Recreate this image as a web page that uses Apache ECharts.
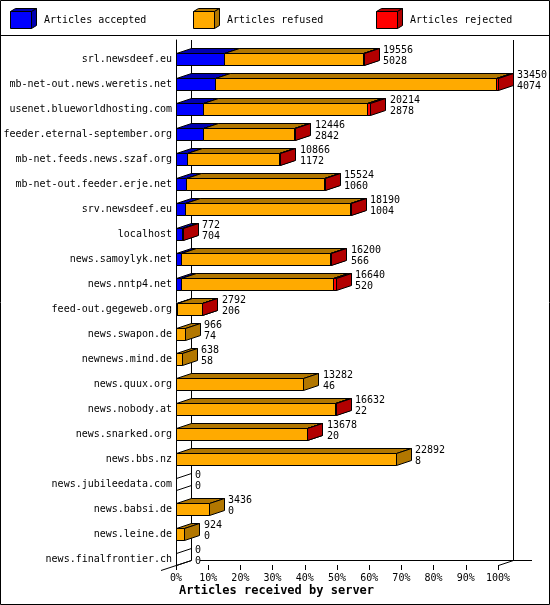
<!DOCTYPE html>
<html>
<head>
<meta charset="utf-8">
<style>html,body{margin:0;padding:0;background:#fff}#c{width:550px;height:605px}</style>
<script src="https://cdn.jsdelivr.net/npm/echarts@6/dist/echarts.min.js"></script>
</head>
<body>
<div id="c"></div>
<script>
const servers = ["srl.newsdeef.eu","mb-net-out.news.weretis.net","usenet.blueworldhosting.com","feeder.eternal-september.org","mb-net.feeds.news.szaf.org","mb-net-out.feeder.erje.net","srv.newsdeef.eu","localhost","news.samoylyk.net","news.nntp4.net","feed-out.gegeweb.org","news.swapon.de","newnews.mind.de","news.quux.org","news.nobody.at","news.snarked.org","news.bbs.nz","news.jubileedata.com","news.babsi.de","news.leine.de","news.finalfrontier.ch"];
const totals   = [19556,33450,20214,12446,10866,15524,18190,772,16200,16640,2792,966,638,13282,16632,13678,22892,0,3436,924,0];
const accepted = [5028,4074,2878,2842,1172,1060,1004,704,566,520,206,74,58,46,22,20,8,0,0,0,0];
const rejected = [100,150,300,90,90,60,70,68,130,280,40,0,0,0,30,30,0,0,0,0,0];
const legendNames = ["Articles accepted","Articles refused","Articles rejected"];
const axisTitle = "Articles received by server";
const FRONT = ["#0000ff","#ffaa00","#ff0000"];
const DARK  = ["#0000b2","#b27700","#b20000"];
const FONT = "DejaVu Sans Mono";
const DX = 15, DY = 5, BAR_H = 12;
const MAX = Math.max.apply(null, totals);
const pct = v => v / MAX * 100;
const px = v => Math.floor(v) + 0.5;

function segment(colorIdx) {
  return function (params, api) {
    const a = api.value(0), b = api.value(1), row = api.value(2), tot = api.value(3);
    const p0 = api.coord([a, row]), p1 = api.coord([b, row]);
    const bh = api.size([0, 1])[1];
    const bottom = px(p0[1] + bh / 2), top = bottom - BAR_H;
    const x0 = px(p0[0]), x1 = px(p1[0]);
    const st = {stroke:"#000", lineWidth:1};
    if (tot === 0) {
      if (colorIdx !== 0) return {type:"group", children:[]};
      return {type:"polygon", shape:{points:[[x0,top],[x0+DX,top-DY],[x0+DX,bottom-DY],[x0,bottom]]},
        style:{fill:"none", stroke:"#000", lineWidth:1}};
    }
    if (b <= a || (colorIdx !== 2 && x1 === x0)) return {type:"group", children:[]};
    return {type:"group", children:[
      {type:"polygon", shape:{points:[[x0,top],[x0+DX,top-DY],[x1+DX,top-DY],[x1,top]]}, style:Object.assign({fill:DARK[colorIdx]}, st)},
      {type:"polygon", shape:{points:[[x1,top],[x1+DX,top-DY],[x1+DX,bottom-DY],[x1,bottom]]}, style:Object.assign({fill:DARK[colorIdx]}, st)},
      {type:"rect", shape:{x:x0, y:top, width:x1-x0, height:BAR_H}, style:Object.assign({fill:FRONT[colorIdx]}, st)}
    ]};
  };
}
function labels(params, api) {
  const row = api.value(0), tot = api.value(1), acc = api.value(2);
  const p = api.coord([pct(tot), row]);
  const bh = api.size([0, 1])[1];
  const bandTop = p[1] - bh / 2;
  const x = Math.round(p[0]) + 19;
  const t = (s, y) => ({type:"text", style:{x:x, y:y, text:String(s), fill:"#000", fontSize:10, fontFamily:FONT, verticalAlign:"middle", align:"left"}});
  return {type:"group", children:[t(tot, bandTop + 10), t(acc, bandTop + 21)]};
}
const rowsA = servers.map((s,i)=>[0, pct(accepted[i]), i, totals[i]]);
const rowsR = servers.map((s,i)=>[pct(accepted[i]), pct(totals[i]-rejected[i]), i, totals[i]]);
const rowsJ = servers.map((s,i)=>[pct(totals[i]-rejected[i]), pct(totals[i]), i, totals[i]]);
const rowsL = servers.map((s,i)=>[i, totals[i], accepted[i]]);

const line = (x1,y1,x2,y2) => ({type:"line", z:0, shape:{x1,y1,x2,y2}, style:{stroke:"#000", lineWidth:1}, silent:true});
const graphics = [
  {type:"rect", z:0, shape:{x:0.5,y:0.5,width:549,height:604}, style:{fill:"none",stroke:"#000",lineWidth:1}},
  line(0,35.5,550,35.5),
  line(191.5,40,191.5,560),
  line(513.5,40,513.5,560),
  line(200,560.5,532,560.5),
  line(161,570.5,191.5,560.5),
  line(498.5,565.5,513.5,560.5)
];
[10,193,376].forEach((x,i)=>{
  const X=x+.5,Y=11.5,W=21,H=17,D=5;
  graphics.push(
    {type:"polygon",z:0,shape:{points:[[X,Y],[X+D,Y-3],[X+W+D,Y-3],[X+W,Y]]},style:{fill:DARK[i],stroke:"#000",lineWidth:1}},
    {type:"polygon",z:0,shape:{points:[[X+W,Y],[X+W+D,Y-3],[X+W+D,Y+H-3],[X+W,Y+H]]},style:{fill:DARK[i],stroke:"#000",lineWidth:1}},
    {type:"rect",z:0,shape:{x:X,y:Y,width:W,height:H},style:{fill:FRONT[i],stroke:"#000",lineWidth:1}},
    {type:"text",z:0,style:{x:x+34,y:20,text:legendNames[i],fill:"#000",fontSize:10,fontFamily:FONT,verticalAlign:"middle"}}
  );
});
graphics.push({type:"text",z:0,style:{x:179,y:591,text:axisTitle,fill:"#000",fontSize:12,fontWeight:"bold",fontFamily:FONT,verticalAlign:"middle"}});

const chart = echarts.init(document.getElementById("c"), null, {renderer:"canvas", width:550, height:605});
chart.setOption({
  animation:false,
  backgroundColor:"#fff",
  grid:{left:176, top:40, width:322, height:525, containLabel:false, outerBoundsMode:"none"},
  xAxis:{type:"value", min:0, max:100, interval:10, position:"bottom",
    axisLine:{show:false}, splitLine:{show:false},
    axisTick:{show:true, length:5, lineStyle:{color:"#000",width:1}},
    axisLabel:{formatter:"{value}%", margin:8, color:"#000", fontSize:10, fontFamily:FONT, hideOverlap:false, showMinLabel:true, showMaxLabel:true}},
  yAxis:{type:"category", data:servers, inverse:true, position:"left",
    axisLine:{show:true, onZero:false, lineStyle:{color:"#000",width:1}},
    axisTick:{show:true, length:0, lineStyle:{opacity:0}}, splitLine:{show:false},
    axisLabel:{interval:0, margin:4, color:"#000", fontSize:10, fontFamily:FONT, verticalAlign:"top", lineHeight:13}},
  graphic:graphics,
  series:[
    {name:legendNames[0], type:"custom", renderItem:segment(0), data:rowsA, clip:false, silent:true, z:3},
    {name:legendNames[1], type:"custom", renderItem:segment(1), data:rowsR, clip:false, silent:true, z:4},
    {name:legendNames[2], type:"custom", renderItem:segment(2), data:rowsJ, clip:false, silent:true, z:5},
    {name:"labels", type:"custom", renderItem:labels, data:rowsL, clip:false, silent:true, z:6}
  ]
});
</script>
</body>
</html>
